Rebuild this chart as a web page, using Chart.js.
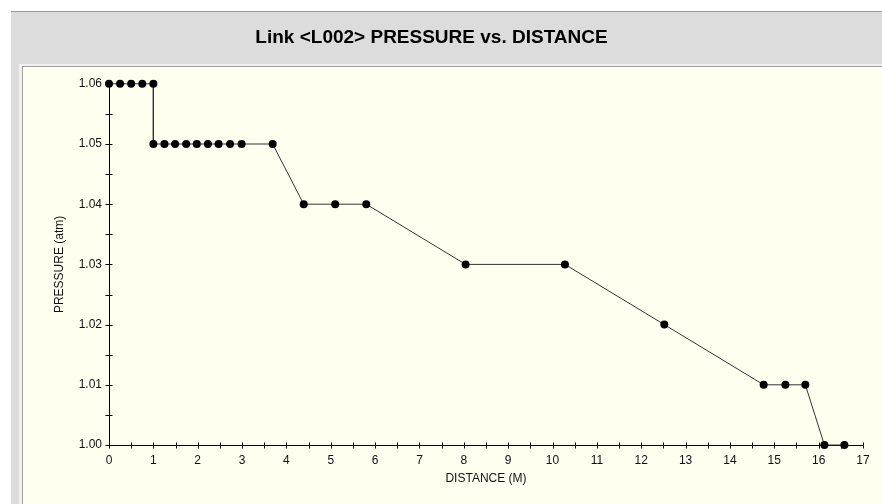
<!DOCTYPE html>
<html>
<head>
<meta charset="utf-8">
<script src="https://cdn.jsdelivr.net/npm/chart.js@4"></script>
<style>
  html, body { margin: 0; padding: 0; background: #fff; }
  #wrap { width: 882px; height: 504px; }
</style>
</head>
<body>
<div id="wrap"><canvas id="chart" width="882" height="504"></canvas></div>
<script>
// data
const distance = [0, 0.25, 0.5, 0.75, 1.0, 1.0, 1.25, 1.49, 1.74, 1.98, 2.23, 2.47, 2.73, 2.99,
  3.69, 4.39, 5.1, 5.8, 8.04, 10.28, 12.52, 14.76, 15.25, 15.7, 16.13, 16.58];
const pressure = [1.06, 1.06, 1.06, 1.06, 1.06, 1.05, 1.05, 1.05, 1.05, 1.05, 1.05, 1.05, 1.05, 1.05,
  1.05, 1.04, 1.04, 1.04, 1.03, 1.03, 1.02, 1.01, 1.01, 1.01, 1.00, 1.00];
const xTicks = { min: 0, max: 17, step: 0.5 };
const yTicks = { min: 1.0, max: 1.06, step: 0.005 };
const titleText = 'Link <L002> PRESSURE vs. DISTANCE';
const xTitle = 'DISTANCE (M)';
const yTitle = 'PRESSURE (atm)';

const FONT = 'Arial, "Liberation Sans", sans-serif';

// gray frame + cream plot panel
const panels = {
  id: 'panels',
  beforeDraw(chart) {
    const c = chart.ctx, w = chart.width, h = chart.height;
    c.save();
    c.fillStyle = '#fff';
    c.fillRect(0, 0, w, h);
    c.fillStyle = '#dcdcdc';
    c.fillRect(11, 12, w - 11, h - 12);
    c.fillStyle = '#999';
    c.fillRect(11, 11, w - 11, 1);
    c.fillStyle = '#f2f2ea';
    c.fillRect(19, 64, w - 19, h - 64);
    c.fillStyle = '#a0a0a0';
    c.fillRect(22, 66, w - 22, 1);
    c.fillRect(22, 66, 1, h - 66);
    c.fillStyle = '#fffff0';
    c.fillRect(23, 67, w - 23, h - 67);
    c.restore();
  }
};

// small crossing tick marks on both axes
const crossTicks = {
  id: 'crossTicks',
  afterDraw(chart) {
    const c = chart.ctx, xs = chart.scales.x, ys = chart.scales.y;
    const ax = Math.round(xs.getPixelForValue(xTicks.min)) + 0.5;
    const ay = Math.round(ys.getPixelForValue(yTicks.min)) + 0.5;
    c.save();
    c.strokeStyle = '#000';
    c.lineWidth = 1;
    c.beginPath();
    xs.ticks.forEach(t => {
      const px = Math.round(xs.getPixelForValue(t.value)) + 0.5;
      c.moveTo(px, ay - 3);
      c.lineTo(px, ay + 3);
    });
    ys.ticks.forEach(t => {
      const py = Math.round(ys.getPixelForValue(t.value)) + 0.5;
      c.moveTo(ax - 4, py);
      c.lineTo(ax + 3, py);
    });
    c.stroke();
    c.restore();
  }
};

const ctx = document.getElementById('chart').getContext('2d');
new Chart(ctx, {
  type: 'line',
  data: {
    datasets: [{
      data: distance.map((d, i) => ({ x: d, y: pressure[i] })),
      borderColor: '#333',
      borderWidth: 1,
      pointBackgroundColor: '#000',
      pointBorderColor: '#000',
      pointRadius: 4,
      pointBorderWidth: 0,
      tension: 0,
      fill: false,
      clip: false
    }]
  },
  plugins: [panels, crossTicks],
  options: {
    responsive: false,
    animation: false,
    layout: { padding: { left: 0, right: 19, top: 0, bottom: 0 } },
    plugins: {
      legend: { display: false },
      tooltip: { enabled: false },
      title: {
        display: true,
        text: titleText,
        color: '#000',
        font: { family: FONT, size: 19, weight: 'bold' },
        padding: { top: 26, bottom: 35 }
      }
    },
    scales: {
      x: {
        type: 'linear',
        min: xTicks.min,
        max: xTicks.max,
        afterFit(s) { s.height = 59; },
        grid: { display: false, drawTicks: false, tickLength: 0 },
        border: { display: true, color: '#000', width: 1 },
        ticks: {
          stepSize: xTicks.step,
          autoSkip: false,
          maxRotation: 0,
          padding: 8,
          color: '#111',
          font: { family: FONT, size: 12 },
          callback: v => (Number.isInteger(v) ? String(v) : '')
        },
        title: {
          display: true,
          text: xTitle,
          color: '#111',
          font: { family: FONT, size: 12 },
          padding: { top: 0, bottom: 18 }
        }
      },
      y: {
        type: 'linear',
        min: yTicks.min,
        max: yTicks.max,
        afterFit(s) { s.width = 109; },
        grid: { display: false, drawTicks: false, tickLength: 0 },
        border: { display: true, color: '#000', width: 1 },
        ticks: {
          stepSize: yTicks.step,
          autoSkip: false,
          padding: 7,
          color: '#111',
          font: { family: FONT, size: 12 },
          callback: v => (Math.round(v * 1000) % 10 === 0 ? v.toFixed(2) : '')
        },
        title: {
          display: true,
          text: yTitle,
          color: '#111',
          font: { family: FONT, size: 12 },
          padding: { top: 52, bottom: 0 }
        }
      }
    }
  }
});
</script>
</body>
</html>
